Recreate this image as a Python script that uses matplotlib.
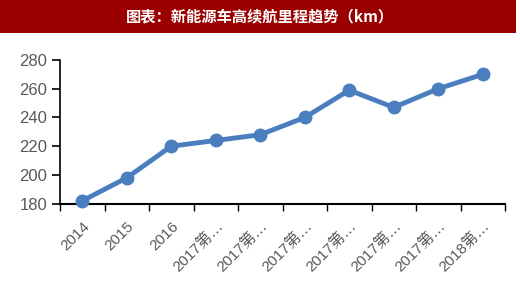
import matplotlib
matplotlib.use("Agg")
import matplotlib.pyplot as plt
from matplotlib.patches import Rectangle

categories = ["2014", "2015", "2016", "2017第…", "2017第…", "2017第…",
              "2017第…", "2017第…", "2017第…", "2018第…"]
values = [182, 198, 220, 224, 228, 240, 259, 247, 260, 270]
yticks = [180, 200, 220, 240, 260, 280]
title = "图表：新能源车高续航里程趋势（km）"

fig = plt.figure(figsize=(5.2, 2.82), dpi=100)
fig.patch.set_facecolor("white")

# title bar
fig.patches.append(Rectangle((0, 1 - 33 / 282), 516 / 520, 33 / 282,
                             transform=fig.transFigure, facecolor="#9b0000",
                             edgecolor="none", zorder=0))
fig.text(0.5, 1 - 16.5 / 282, title, color="white", ha="center", va="center",
         fontsize=11, fontweight="bold",
         family=["Noto Sans CJK SC", "DejaVu Sans"])

ax = fig.add_axes([60 / 520, 1 - 203.7 / 282, 445 / 520, 143.7 / 282])
x = list(range(len(categories)))
ax.plot(x, values, color="#4a7ebf", linewidth=3.5, marker="o",
        markersize=9, markerfacecolor="#4a7ebf", markeredgecolor="#4a7ebf",
        clip_on=False, zorder=3)

ax.set_xlim(-0.5, len(categories) - 0.5)
ax.set_ylim(180, 280)
ax.set_yticks(yticks)
ax.set_yticklabels([str(t) for t in yticks], color="#595959", fontsize=12,
                   family=["Liberation Sans", "Noto Sans CJK SC"])
ax.set_xticks([i - 0.5 for i in range(len(categories) + 1)])
ax.set_xticklabels([])
ax.set_xticks(x, minor=True)
ax.set_xticklabels(categories, minor=True, rotation=45, ha="right",
                   rotation_mode="anchor", color="#595959", fontsize=11,
                   family=["Liberation Sans", "Noto Sans CJK SC"])
ax.tick_params(axis="x", which="minor", length=0, pad=11)
ax.tick_params(axis="x", which="major", direction="out", length=5,
               width=1, color="black")
ax.tick_params(axis="y", direction="out", length=6, width=1.2, color="black",
               pad=3)

for s in ["top", "right"]:
    ax.spines[s].set_visible(False)
ax.spines["left"].set_color("black")
ax.spines["left"].set_linewidth(1.2)
ax.spines["bottom"].set_color("black")
ax.spines["bottom"].set_linewidth(1.5)

fig.savefig("out.png", dpi=100)
